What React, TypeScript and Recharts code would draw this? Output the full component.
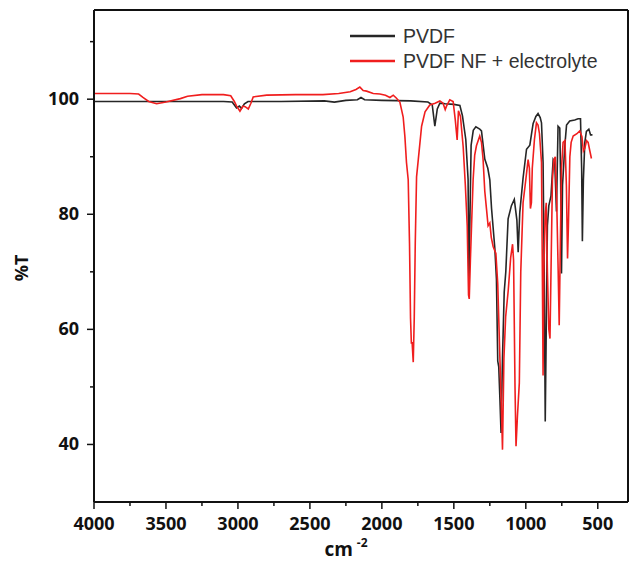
import { LineChart, Line, XAxis, YAxis, Legend, ReferenceLine, Label } from "recharts";

// wavenumber (cm-1) / transmittance (%T)
const pvdfWn = [
  4000, 3700, 3400, 3100, 3040, 3010, 2990, 2975, 2955, 2930,
  2700, 2400, 2330, 2250, 2170, 2145, 2120, 2000, 1800, 1680,
  1650, 1632, 1615, 1597, 1560, 1500, 1458, 1440, 1417, 1401,
  1395, 1389, 1380, 1365, 1347, 1320, 1308, 1285, 1264, 1250,
  1238, 1215, 1204, 1195, 1188, 1180, 1172, 1162, 1150, 1139,
  1123, 1100, 1080, 1062, 1053, 1042, 1019, 995, 972, 960,
  949, 930, 915, 900, 891, 880, 872, 865, 858, 850,
  840, 825, 810, 799, 787, 776, 764, 758, 752, 745,
  729, 717, 695, 660, 637, 620, 612, 607, 600, 590,
  579, 562, 550, 537,
];
const pvdfT = [
  99.6, 99.6, 99.6, 99.6, 99.5, 98.5, 98.8, 98.4, 99.2, 99.6,
  99.6, 99.7, 99.5, 99.8, 99.9, 100.3, 99.9, 99.8, 99.7, 99.5,
  99.0, 95.3, 98.3, 99.3, 99.2, 99.1, 98.9, 97.1, 93.0, 86.1,
  67.5, 78.0, 92.0, 94.6, 95.2, 94.8, 94.5, 89.6, 88.0, 86.0,
  81.0, 74.0, 68.7, 54.5, 53.5, 48.0, 42.0, 55.0, 66.5, 70.0,
  79.2, 81.5, 82.6, 79.0, 73.4, 80.3, 86.3, 91.3, 92.0, 94.0,
  95.8, 97.0, 97.5, 96.8, 95.9, 89.0, 70.0, 44.0, 60.0, 78.0,
  81.5, 83.2, 89.5, 89.0, 80.5, 95.3, 95.0, 86.0, 69.7, 85.0,
  91.9, 95.5, 96.2, 96.4, 96.6, 96.6, 88.0, 75.3, 86.0, 92.5,
  94.4, 94.8, 93.8, 93.8,
];

const nfWn = [
  4000, 3750, 3690, 3660, 3620, 3565, 3500, 3400, 3350, 3250,
  3100, 3050, 3025, 3009, 2986, 2965, 2950, 2928, 2910, 2894,
  2800, 2600, 2410, 2300, 2220, 2180, 2153, 2130, 2106, 2060,
  2014, 1975, 1944, 1921, 1900, 1875, 1852, 1840, 1829, 1817,
  1808, 1801, 1795, 1790, 1782, 1775, 1768, 1759, 1747, 1724,
  1700, 1667, 1630, 1597, 1575, 1560, 1551, 1528, 1505, 1490,
  1477, 1468, 1454, 1435, 1420, 1407, 1398, 1393, 1385, 1377,
  1366, 1355, 1343, 1320, 1308, 1297, 1285, 1273, 1262, 1250,
  1240, 1227, 1208, 1195, 1180, 1168, 1162, 1152, 1140, 1122,
  1105, 1092, 1085, 1075, 1068, 1058, 1045, 1035, 1019, 1000,
  984, 975, 968, 961, 955, 940, 926, 915, 905, 891,
  885, 880, 875, 865, 858, 850, 840, 832, 825, 815,
  805, 795, 785, 775, 768, 760, 752, 741, 728, 718,
  710, 704, 694, 685, 671, 645, 625, 610, 600, 590,
  578, 567, 555, 544,
];
const nfT = [
  101.0, 101.0, 100.9, 100.3, 99.6, 99.2, 99.5, 100.1, 100.5, 100.8,
  100.8, 100.6, 99.6, 98.8, 97.9, 98.8, 98.7, 98.3, 99.3, 100.4,
  100.7, 100.8, 100.8, 101.0, 101.3, 101.7, 102.1, 101.5, 101.4, 101.0,
  100.9, 100.7, 100.3, 100.7, 100.2, 99.5, 96.9, 93.5, 89.0, 86.0,
  75.0, 62.0, 57.5, 57.8, 54.3, 62.0, 75.0, 86.5, 89.5, 95.3,
  97.8, 99.0, 99.3, 99.7, 99.3, 98.2, 98.8, 99.9, 99.6, 96.4,
  92.9, 98.0, 97.0, 91.7, 85.0, 78.0, 66.0, 65.3, 72.0, 78.0,
  86.0, 90.3, 91.9, 93.6, 92.5, 89.6, 84.0, 80.9, 78.0, 78.5,
  76.0, 74.4, 73.2, 67.9, 55.0, 45.0, 39.1, 55.0, 62.2, 66.8,
  72.5, 74.8, 72.0, 50.0, 39.7, 45.0, 50.7, 70.0, 82.0, 86.0,
  89.5, 88.0, 81.0, 82.0, 88.0, 93.0, 95.9, 95.5, 94.0, 89.0,
  70.0, 52.0, 70.0, 80.0, 82.0, 70.0, 60.0, 58.4, 70.0, 86.0,
  89.5, 90.0, 82.0, 70.0, 60.7, 75.0, 88.0, 92.5, 92.8, 85.0,
  72.3, 78.0, 90.0, 92.5, 93.6, 94.0, 94.5, 93.5, 91.0, 91.5,
  92.8, 92.5, 91.0, 89.7,
];

const xTicks = [4000, 3750, 3500, 3250, 3000, 2750, 2500, 2250, 2000, 1750, 1500, 1250, 1000, 750, 500];
const yTicks = [40, 50, 60, 70, 80, 90, 100, 110];

const pvdf = pvdfWn.map((wn, i) => ({ wn, t: pvdfT[i] }));
const nf = nfWn.map((wn, i) => ({ wn, t: nfT[i] }));

const series = [
  { name: "PVDF", data: pvdf, color: "#262626" },
  { name: "PVDF NF + electrolyte", data: nf, color: "#f01e1e" },
];

const tickFont = { fontFamily: "'Open Sans', 'Noto Sans', sans-serif", fontWeight: 700, fontSize: 18, fill: "#111" };

const XTick = ({ x, y, payload }: any) => {
  const major = payload.value % 500 === 0;
  return (
    <g>
      <line x1={x} x2={x} y1={y} y2={y + (major ? 7 : 4)} stroke="#111" strokeWidth={1.5} />
      {major && (
        <text x={x} y={y + 28} textAnchor="middle" style={tickFont}>
          {payload.value}
        </text>
      )}
    </g>
  );
};

const YTick = ({ x, y, payload }: any) => {
  const major = payload.value % 20 === 0;
  return (
    <g>
      <line x1={x} x2={x - (major ? 7 : 4)} y1={y} y2={y} stroke="#111" strokeWidth={1.5} />
      {major && (
        <text x={x - 15} y={y + 6} textAnchor="end" style={tickFont}>
          {payload.value}
        </text>
      )}
    </g>
  );
};

const LegendBox = () => (
  <svg width={280} height={64}>
    {series.map((s, i) => (
      <g key={s.name}>
        <line x1={2} x2={47} y1={14 + i * 25} y2={14 + i * 25} stroke={s.color} strokeWidth={2.5} />
        <text
          x={55}
          y={21 + i * 25}
          style={{ fontFamily: "'Liberation Sans', Arial, sans-serif", fontSize: 19.5, fill: "#333" }}
        >
          {s.name}
        </text>
      </g>
    ))}
  </svg>
);

export default function App() {
  return (
    <div style={{ position: "absolute", left: 0, top: 0, background: "#fff" }}>
      <LineChart width={634} height={562} margin={{ top: 10, right: 6, left: 0, bottom: 0 }}>
        <XAxis
          type="number"
          dataKey="wn"
          domain={[290, 4000]}
          reversed
          allowDataOverflow
          ticks={xTicks}
          tick={<XTick />}
          tickLine={false}
          tickSize={0}
          tickMargin={0}
          height={60}
          axisLine={{ stroke: "#111", strokeWidth: 2 }}
          interval={0}
        >
          <Label
            content={() => (
              <text x={346} y={556} textAnchor="middle" style={{ ...tickFont, fontSize: 19 }}>
                cm
                <tspan dx={4} dy={-9} style={{ fontSize: 12 }}>
                  -2
                </tspan>
              </text>
            )}
          />
        </XAxis>
        <YAxis
          type="number"
          domain={[30, 115.5]}
          allowDataOverflow
          ticks={yTicks}
          tick={<YTick />}
          tickLine={false}
          tickSize={0}
          tickMargin={0}
          width={94}
          axisLine={{ stroke: "#111", strokeWidth: 2 }}
          interval={0}
        >
          <Label
            content={() => (
              <text x={28} y={268} textAnchor="middle" transform="rotate(-90 28 268)" style={tickFont}>
                %T
              </text>
            )}
          />
        </YAxis>
        <ReferenceLine y={115.5} stroke="#111" strokeWidth={2} />
        <ReferenceLine x={290} stroke="#111" strokeWidth={2} />
        <Legend
          layout="horizontal"
          verticalAlign="middle"
          align="center"
          content={<LegendBox />}
          wrapperStyle={{ left: 348, top: 22, width: 280, height: 64 }}
        />
        {series.map((s) => (
          <Line
            key={s.name}
            data={s.data}
            dataKey="t"
            name={s.name}
            type="linear"
            stroke={s.color}
            strokeWidth={1.6}
            dot={false}
            isAnimationActive={false}
          />
        ))}
      </LineChart>
    </div>
  );
}
